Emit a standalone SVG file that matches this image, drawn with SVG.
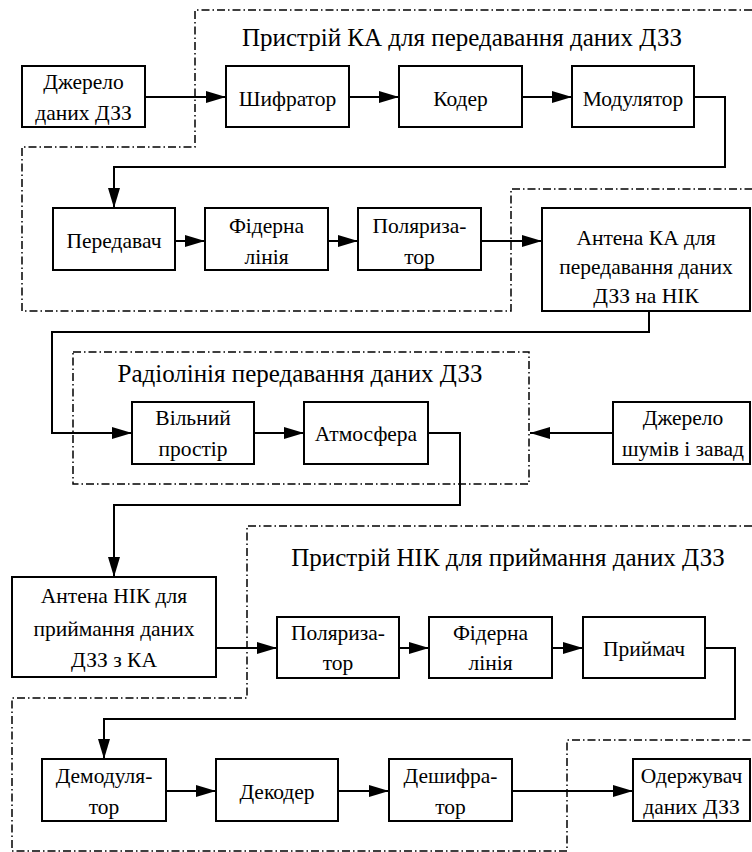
<svg xmlns="http://www.w3.org/2000/svg" width="752" height="852" viewBox="0 0 752 852" font-family="Liberation Serif">
<style>
.box{fill:#fff;stroke:#000;stroke-width:2}
.t{font-family:'Liberation Serif';font-size:21.5px;text-anchor:middle;fill:#000}
.title{font-family:'Liberation Serif';font-size:25px;text-anchor:middle;fill:#000}
.conn{fill:none;stroke:#000;stroke-width:2;marker-end:url(#arr)}
.grp{fill:none;stroke:#000;stroke-width:1.5;stroke-dasharray:8 3 1.5 3}
</style>
<defs>
<marker id="arr" markerUnits="userSpaceOnUse" markerWidth="20" markerHeight="12" refX="20" refY="6" orient="auto">
<path d="M0,0 L20,6 L0,12 z" fill="#000"/>
</marker>
</defs>
<rect width="752" height="852" fill="#fff"/>
<g id="groups">
<polyline class="grp" points="752,10 195,10 195,147 22,147 22,311 511,311 511,189 752,189"/>
<rect class="grp" x="73" y="352" width="456" height="132"/>
<polyline class="grp" points="752,526 247,526 247,698 12,698 12,851 567,851 567,740 752,740"/>
<text class="title" x="462" y="46">Пристрій КА для передавання даних ДЗЗ</text>
<text class="title" x="300" y="382">Радіолінія передавання даних ДЗЗ</text>
<text class="title" x="508" y="566">Пристрій НІК для приймання даних ДЗЗ</text>
</g>
<g id="connectors">
<path class="conn" d="M145,97 H226"/>
<path class="conn" d="M349,97 H399"/>
<path class="conn" d="M522,97 H572"/>
<path class="conn" d="M694,97 H725 V167 H114 V208"/>
<path class="conn" d="M175,241 H205"/>
<path class="conn" d="M328,241 H358"/>
<path class="conn" d="M481,241 H542"/>
<path class="conn" d="M649,311 V332 H52 V433 H132"/>
<path class="conn" d="M254,433 H304"/>
<path class="conn" d="M613,433 H530"/>
<path class="conn" d="M428,433 H460 V505 H114 V577"/>
<path class="conn" d="M216,648 H277"/>
<path class="conn" d="M399,648 H429"/>
<path class="conn" d="M552,648 H583"/>
<path class="conn" d="M705,648 H735 V719 H104 V759"/>
<path class="conn" d="M166,791 H216"/>
<path class="conn" d="M338,791 H389"/>
<path class="conn" d="M512,791 H633"/>
</g>
<g id="src"><rect class="box" x="22" y="66" width="123" height="61"/><text class="t" x="83.5" y="89">Джерело</text><text class="t" x="83.5" y="120">даних ДЗЗ</text></g>
<g id="shifrator"><rect class="box" x="226" y="66" width="123" height="61"/><text class="t" x="287.5" y="106">Шифратор</text></g>
<g id="coder"><rect class="box" x="399" y="66" width="123" height="61"/><text class="t" x="460.5" y="106">Кодер</text></g>
<g id="modulator"><rect class="box" x="572" y="66" width="122" height="61"/><text class="t" x="633" y="106">Модулятор</text></g>
<g id="peredavach"><rect class="box" x="53" y="208" width="122" height="62"/><text class="t" x="114" y="248">Передавач</text></g>
<g id="fider1"><rect class="box" x="205" y="208" width="123" height="62"/><text class="t" x="266.5" y="233">Фідерна</text><text class="t" x="266.5" y="264">лінія</text></g>
<g id="polar1"><rect class="box" x="358" y="208" width="123" height="62"/><text class="t" x="419.5" y="233">Поляриза-</text><text class="t" x="419.5" y="264">тор</text></g>
<g id="antKA"><rect class="box" x="542" y="208" width="208" height="103"/><text class="t" x="646" y="245">Антена КА для</text><text class="t" x="646" y="274">передавання даних</text><text class="t" x="646" y="303">ДЗЗ на НІК</text></g>
<g id="vilny"><rect class="box" x="132" y="402" width="122" height="62"/><text class="t" x="193" y="425">Вільний</text><text class="t" x="193" y="456">простір</text></g>
<g id="atmos"><rect class="box" x="304" y="402" width="124" height="62"/><text class="t" x="366" y="441">Атмосфера</text></g>
<g id="noise"><rect class="box" x="613" y="402" width="137" height="62"/><text class="t" x="683" y="425">Джерело</text><text class="t" x="683" y="456">шумів і завад</text></g>
<g id="antNIK"><rect class="box" x="12" y="577" width="204" height="100"/><text class="t" x="114" y="603">Антена НІК для</text><text class="t" x="114" y="636">приймання даних</text><text class="t" x="114" y="667">ДЗЗ з КА</text></g>
<g id="polar2"><rect class="box" x="277" y="617" width="122" height="61"/><text class="t" x="338" y="640">Поляриза-</text><text class="t" x="338" y="670">тор</text></g>
<g id="fider2"><rect class="box" x="429" y="617" width="123" height="61"/><text class="t" x="490.5" y="640">Фідерна</text><text class="t" x="490.5" y="670">лінія</text></g>
<g id="priymach"><rect class="box" x="583" y="617" width="122" height="61"/><text class="t" x="644" y="656">Приймач</text></g>
<g id="demod"><rect class="box" x="42" y="759" width="124" height="62"/><text class="t" x="104" y="783">Демодуля-</text><text class="t" x="104" y="814">тор</text></g>
<g id="decoder"><rect class="box" x="216" y="759" width="122" height="62"/><text class="t" x="277" y="799">Декодер</text></g>
<g id="deshifr"><rect class="box" x="389" y="759" width="123" height="62"/><text class="t" x="450.5" y="783">Дешифра-</text><text class="t" x="450.5" y="814">тор</text></g>
<g id="receiver"><rect class="box" x="633" y="759" width="117" height="62"/><text class="t" x="691.5" y="783">Одержувач</text><text class="t" x="691.5" y="814">даних ДЗЗ</text></g>
</svg>
